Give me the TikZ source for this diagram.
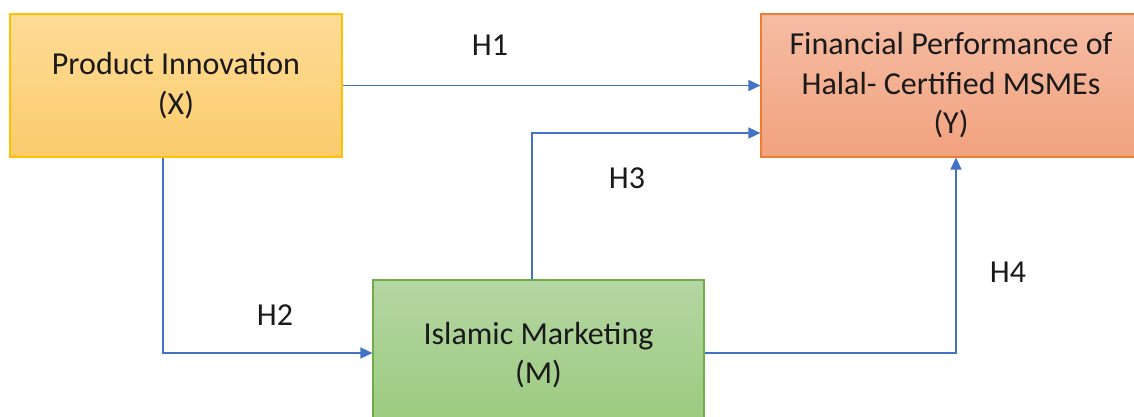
\documentclass[tikz,border=0pt]{standalone}
\usepackage{fontspec}
\setmainfont{Carlito}
\usetikzlibrary{arrows.meta,positioning,calc}
\definecolor{arrowblue}{HTML}{4472C4}
\definecolor{ybord}{HTML}{FFC000}
\definecolor{ytop}{HTML}{FEDC96}
\definecolor{ybot}{HTML}{FBCB6C}
\definecolor{obord}{HTML}{ED7D31}
\definecolor{otop}{HTML}{F5BCA3}
\definecolor{obot}{HTML}{F2A27F}
\definecolor{gbord}{HTML}{70AD47}
\definecolor{gtop}{HTML}{B5D6A3}
\definecolor{gbot}{HTML}{9ACA7E}
\definecolor{txt}{HTML}{1A1A1A}
\tikzset{
  box/.style={rectangle, line width=1.2pt, align=center, inner sep=0pt,
    font=\fontsize{32}{39.5}\selectfont, text=txt},
  link/.style={draw=arrowblue, line width=1.5pt, -{Triangle[length=12pt,width=11pt]}},
  hlabel/.style={font=\fontsize{32}{39}\selectfont, text=txt, inner sep=0pt}
}
\begin{document}
\begin{tikzpicture}[x=1pt,y=1pt]
\useasboundingbox (0,0) rectangle (1134,417);
\clip (0,0) rectangle (1134,417);
\node[box, draw=ybord, top color=ytop, bottom color=ybot, minimum width=332pt, minimum height=143pt]
  (px) at (176,331.5) {Product Innovation\\(X)};
\node[box, draw=obord, top color=otop, bottom color=obot, minimum width=380pt, minimum height=143pt]
  (py) at (951,331.5) {Financial Performance of\\Halal- Certified MSMEs\\(Y)};
\node[box, draw=gbord, top color=gtop, bottom color=gbot, minimum width=331pt, minimum height=150pt]
  (m) at (538.5,62) {Islamic Marketing\\(M)};
\coordinate (h3in) at ([yshift=-47.5pt]py.west);
\coordinate (h3out) at ([xshift=-6.5pt]m.north);
\coordinate (h2out) at ([xshift=-13pt]px.south);
\coordinate (h4in) at ([xshift=5pt]py.south);
\coordinate (h2in) at ([yshift=2pt]m.west);
\draw[link] (px.east) -- (py.west |- px.east);
\draw[link] (h3out) |- (h3in);
\draw[link] (h2out) |- (h2in);
\draw[link] (m.east |- h2in) -| (h4in);
\node[hlabel] (l1) at (490,372) {H1};
\node[hlabel] (l2) at (275,102) {H2};
\node[hlabel] (l3) at (627,239) {H3};
\node[hlabel] (l4) at (1008,145) {H4};
\end{tikzpicture}
\end{document}
